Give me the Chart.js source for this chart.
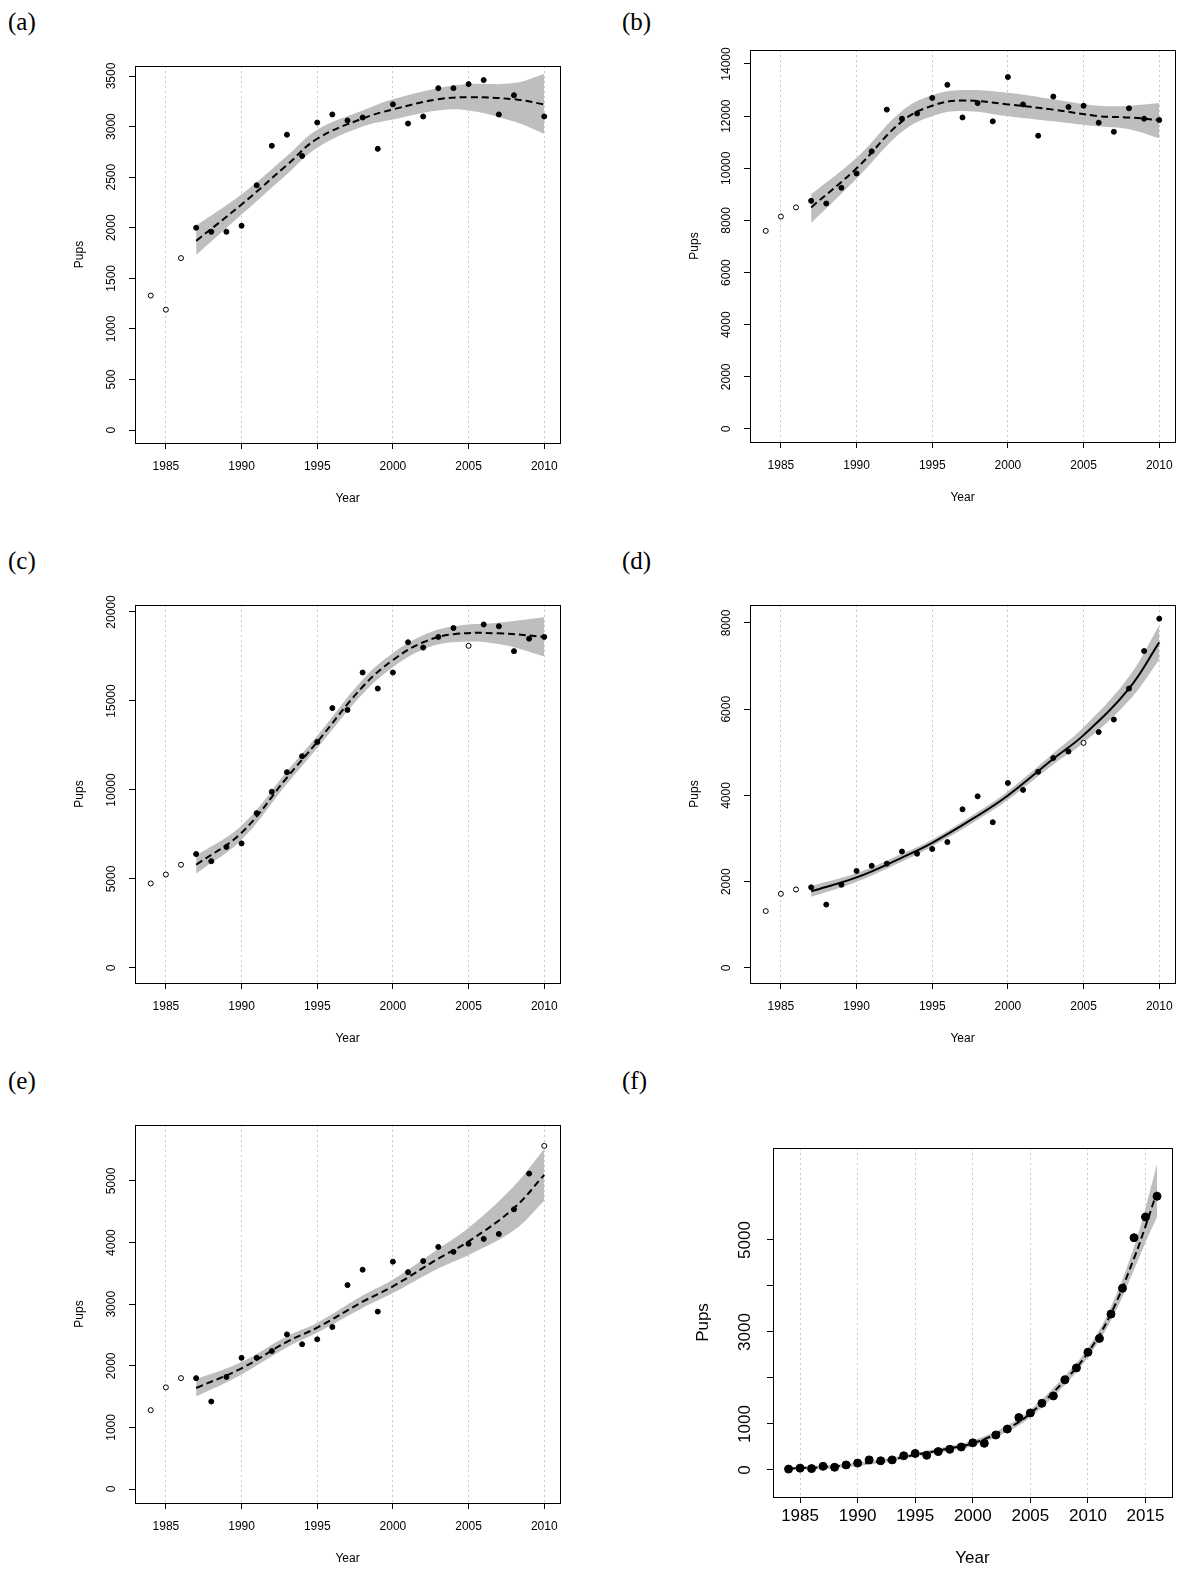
<!DOCTYPE html>
<html><head><meta charset="utf-8">
<script src="https://cdn.jsdelivr.net/npm/chart.js@4.4.1/dist/chart.umd.min.js"></script>
<style>body{margin:0;background:#fff;width:1197px;height:1591px;position:relative;overflow:hidden}
.c{position:absolute}.lab{position:absolute;font-family:"Liberation Serif",serif;font-size:25px}</style>
</head><body>
<div class="lab" style="left:8px;top:8px">(a)</div>
<div class="lab" style="left:622px;top:8px">(b)</div>
<div class="lab" style="left:8px;top:547px">(c)</div>
<div class="lab" style="left:622px;top:547px">(d)</div>
<div class="lab" style="left:8px;top:1067px">(e)</div>
<div class="lab" style="left:622px;top:1067px">(f)</div>
<script>
// ---- data ----
const aOpenYears=[1984,1985,1986], aOpen=[1330,1190,1700];
const aYears=[1987,1988,1989,1990,1991,1992,1993,1994,1995,1996,1997,1998,1999,2000,2001,2002,2003,2004,2005,2006,2007,2008,2010];
const aPups=[2000,1960,1960,2020,2420,2810,2920,2710,3040,3120,3060,3090,2780,3220,3030,3100,3380,3380,3420,3460,3120,3310,3100];
const aFitYears=[1987,1990,1993,1995,1998,2000,2003,2005,2008,2010];
const aFit=[1870,2230,2620,2880,3080,3170,3270,3290,3270,3220];
const aLow=[1730,2130,2530,2790,3000,3070,3160,3160,3050,2930];
const aHigh=[2020,2330,2710,2970,3160,3270,3380,3420,3430,3520];

const bOpenYears=[1984,1985,1986], bOpen=[7600,8150,8500];
const bYears=[1987,1988,1989,1990,1991,1992,1993,1994,1995,1996,1997,1998,1999,2000,2001,2002,2003,2004,2005,2006,2007,2008,2009,2010];
const bPups=[8750,8650,9250,9800,10650,12250,11900,12100,12700,13200,11950,12500,11800,13500,12450,11250,12750,12350,12400,11750,11400,12300,11900,11850];
const bFitYears=[1987,1990,1993,1995,1997,2000,2003,2006,2008,2010];
const bFit=[8500,10000,11800,12400,12600,12450,12250,12000,11950,11850];
const bLow=[7900,9600,11400,12000,12200,12000,11800,11600,11500,11150];
const bHigh=[9000,10400,12200,12800,13000,12900,12650,12400,12400,12500];

const cOpenYears=[1984,1985,1986,2005], cOpen=[4750,5250,5800,18100];
const cYears=[1987,1988,1989,1990,1991,1992,1993,1994,1995,1996,1997,1998,1999,2000,2001,2002,2003,2004,2006,2007,2008,2009,2010];
const cPups=[6400,6000,6800,7000,8700,9900,11000,11900,12700,14600,14500,16600,15700,16600,18300,18000,18600,19100,19300,19200,17800,18500,18600];
const cFitYears=[1987,1990,1993,1995,1998,2000,2002,2004,2007,2010];
const cFit=[5800,7600,10700,12700,15800,17300,18300,18750,18800,18600];
const cLow=[5300,7200,10350,12350,15400,16900,17900,18300,18200,17500];
const cHigh=[6300,8000,11050,13050,16200,17700,18700,19200,19400,19700];

const dOpenYears=[1984,1985,1986,2005], dOpen=[1320,1720,1820,5220];
const dYears=[1987,1988,1989,1990,1991,1992,1993,1994,1995,1996,1997,1998,1999,2000,2001,2002,2003,2004,2006,2007,2008,2009,2010];
const dPups=[1870,1470,1930,2250,2370,2420,2700,2650,2760,2920,3680,3980,3380,4290,4130,4550,4870,5020,5470,5760,6480,7350,8100];
const dFitYears=[1987,1990,1993,1995,1998,2000,2003,2005,2008,2010];
const dFit=[1780,2100,2560,2900,3530,4000,4850,5400,6480,7550];
const dLow=[1650,2000,2470,2820,3440,3900,4720,5220,6200,7150];
const dHigh=[1900,2200,2650,2980,3620,4100,4980,5580,6760,7950];

const eOpenYears=[1984,1985,1986,2010], eOpen=[1280,1650,1800,5570];
const eYears=[1987,1988,1989,1990,1991,1992,1993,1994,1995,1996,1997,1998,1999,2000,2001,2002,2003,2004,2005,2006,2007,2008,2009];
const ePups=[1800,1420,1820,2130,2130,2240,2510,2350,2430,2630,3310,3560,2880,3690,3520,3700,3930,3850,3980,4060,4140,4540,5120];
const eFitYears=[1987,1990,1993,1995,1998,2000,2003,2005,2008,2010];
const eFit=[1640,1960,2390,2620,3040,3290,3740,4020,4560,5100];
const eLow=[1500,1860,2300,2540,2940,3180,3580,3800,4200,4680];
const eHigh=[1780,2060,2480,2700,3140,3400,3900,4240,4920,5520];

const fOpenYears=[], fOpen=[];
const fYears=[1984,1985,1986,1987,1988,1989,1990,1991,1992,1993,1994,1995,1996,1997,1998,1999,2000,2001,2002,2003,2004,2005,2006,2007,2008,2009,2010,2011,2012,2013,2014,2015,2016];
const fPups=[20,40,30,80,60,110,150,220,200,220,310,360,320,400,450,500,590,580,760,890,1140,1240,1450,1610,1960,2220,2560,2860,3390,3950,5050,5500,5950];
const fFitYears=[1984,1988,1992,1995,1998,2000,2003,2005,2008,2010,2012,2014,2015,2016];
const fFit=[30,80,190,330,470,580,900,1230,1950,2550,3400,4600,5300,6050];
const fLow=[0,40,150,290,420,520,830,1150,1850,2450,3250,4350,4950,5500];
const fHigh=[60,120,230,370,520,640,970,1310,2050,2650,3550,4850,5700,6650];

const xTicksA=[1985,1990,1995,2000,2005,2010];
const xTicksF=[1985,1990,1995,2000,2005,2010,2015];
const yTicksA=[0,500,1000,1500,2000,2500,3000,3500];
const yTicksB=[0,2000,4000,6000,8000,10000,12000,14000];
const yTicksC=[0,5000,10000,15000,20000];
const yTicksD=[0,2000,4000,6000,8000];
const yTicksE=[0,1000,2000,3000,4000,5000];
const yTicksF=[0,1000,2000,3000,4000,5000];
const yLabelsF=[0,1000,3000,5000];

const zip=(xs,ys)=>xs.map((x,i)=>({x,y:ys[i]}));
function panel(o){
  const W=90,B=72,P=24;
  const div=document.createElement('div');div.className='c';
  let L=o.l-W,T=o.t-P,WW=o.r-o.l+W+12,HH=o.b-o.t+B+P;
  const place=()=>{div.style.left=L+'px';div.style.top=T+'px';div.style.width=WW+'px';div.style.height=HH+'px';};
  place();
  const cv=document.createElement('canvas');div.appendChild(cv);document.body.appendChild(div);
  const fs=o.fs, ff='"Liberation Sans", Arial, sans-serif';
  const deco={id:'deco',afterDraw(ch){
    const c=ch.ctx,a=ch.chartArea,xs=ch.scales.x,ys=ch.scales.y;
    c.save();c.strokeStyle='#000';c.lineWidth=1;c.setLineDash([]);
    c.strokeRect(a.left+0.5,a.top+0.5,a.right-a.left,a.bottom-a.top);
    c.fillStyle='#000';c.font=fs+'px '+ff;c.textAlign='center';c.textBaseline='middle';
    o.xt.forEach(v=>c.fillText(String(v),xs.getPixelForValue(v),a.bottom+o.xlo));
    c.fillText('Year',(a.left+a.right)/2,a.bottom+o.xto);
    (o.yl||o.yt).forEach(v=>{c.save();c.translate(a.left-o.ylo,ys.getPixelForValue(v));c.rotate(-Math.PI/2);c.fillText(String(v),0,0);c.restore();});
    c.save();c.translate(a.left-o.yto,(a.top+a.bottom)/2);c.rotate(-Math.PI/2);c.fillText('Pups',0,0);c.restore();
    c.restore();}};
  const ch=new Chart(cv,{type:'scatter',
    data:{datasets:[
      {type:'line',order:5,data:zip(o.fy,o.lo),showLine:true,borderWidth:0,borderColor:'rgba(0,0,0,0)',pointRadius:0,tension:0.4,fill:false},
      {type:'line',order:4,data:zip(o.fy,o.hi),showLine:true,borderWidth:0,borderColor:'rgba(0,0,0,0)',pointRadius:0,tension:0.4,fill:'-1',backgroundColor:'#bebebe'},
      {type:'line',order:3,data:zip(o.fy,o.fit),showLine:true,borderColor:'#000',borderWidth:2,borderDash:o.solid?[]:[7,4],pointRadius:0,tension:0.4,fill:false},
      {order:2,data:zip(o.py,o.pv),pointRadius:o.pr,backgroundColor:'#000',borderColor:'#000',borderWidth:1},
      {order:1,data:zip(o.oy,o.ov),pointRadius:o.pr,backgroundColor:'#fff',borderColor:'#000',borderWidth:1}
    ]},
    options:{responsive:true,maintainAspectRatio:false,animation:false,
      layout:{padding:{top:P,left:0,right:0,bottom:0}},
      plugins:{legend:{display:false},tooltip:{enabled:false}},
      scales:{
        x:{type:'linear',min:o.x0,max:o.x1,afterBuildTicks:s=>{s.ticks=o.xt.map(v=>({value:v}));},afterFit:s=>{s.height=B;},
           ticks:{display:false},border:{display:false,dash:[2,3]},
           grid:{color:'#c8c8c8',tickColor:'#000',tickBorderDash:[],tickLength:6,drawTicks:true}},
        y:{type:'linear',min:o.y0,max:o.y1,afterBuildTicks:s=>{s.ticks=o.yt.map(v=>({value:v}));},afterFit:s=>{s.width=W;},
           ticks:{display:false},border:{display:false},
           grid:{drawOnChartArea:false,tickColor:'#000',tickLength:6,drawTicks:true}}}},
    plugins:[deco]});
  for(let k=0;k<3;k++){
    const a=ch.chartArea;
    L+=(o.l-L)-a.left; T+=(o.t-T)-a.top;
    WW+=(o.r-o.l)-(a.right-a.left); HH+=(o.b-o.t)-(a.bottom-a.top);
    place(); ch.resize();
  }
}
const base={x0:1982.96,x1:2011.04,xt:xTicksA,fs:12,pr:2.5,xlo:24,xto:56,ylo:23,yto:55};
panel({...base,l:135,t:66,r:560,b:443,y0:-128,y1:3599,yt:yTicksA,fy:aFitYears,fit:aFit,lo:aLow,hi:aHigh,py:aYears,pv:aPups,oy:aOpenYears,ov:aOpen});
panel({...base,l:750,t:50,r:1175,b:442,y0:-499,y1:14537,yt:yTicksB,fy:bFitYears,fit:bFit,lo:bLow,hi:bHigh,py:bYears,pv:bPups,oy:bOpenYears,ov:bOpen});
panel({...base,l:135,t:605,r:560,b:983,y0:-843,y1:20393,yt:yTicksC,fy:cFitYears,fit:cFit,lo:cLow,hi:cHigh,py:cYears,pv:cPups,oy:cOpenYears,ov:cOpen});
panel({...base,l:750,t:605,r:1175,b:983,y0:-348,y1:8417,yt:yTicksD,solid:true,fy:dFitYears,fit:dFit,lo:dLow,hi:dHigh,py:dYears,pv:dPups,oy:dOpenYears,ov:dOpen});
panel({...base,l:135,t:1125,r:560,b:1503,y0:-227,y1:5909,yt:yTicksE,fy:eFitYears,fit:eFit,lo:eLow,hi:eHigh,py:eYears,pv:ePups,oy:eOpenYears,ov:eOpen});
panel({x0:1982.65,x1:2017.3,xt:xTicksF,fs:17,pr:4,xlo:19,xto:61,ylo:28,yto:70,l:773,t:1148,r:1172,b:1497,y0:-587,y1:7000,yt:yTicksF,yl:yLabelsF,fy:fFitYears,fit:fFit,lo:fLow,hi:fHigh,py:fYears,pv:fPups,oy:fOpenYears,ov:fOpen});
</script>
</body></html>
